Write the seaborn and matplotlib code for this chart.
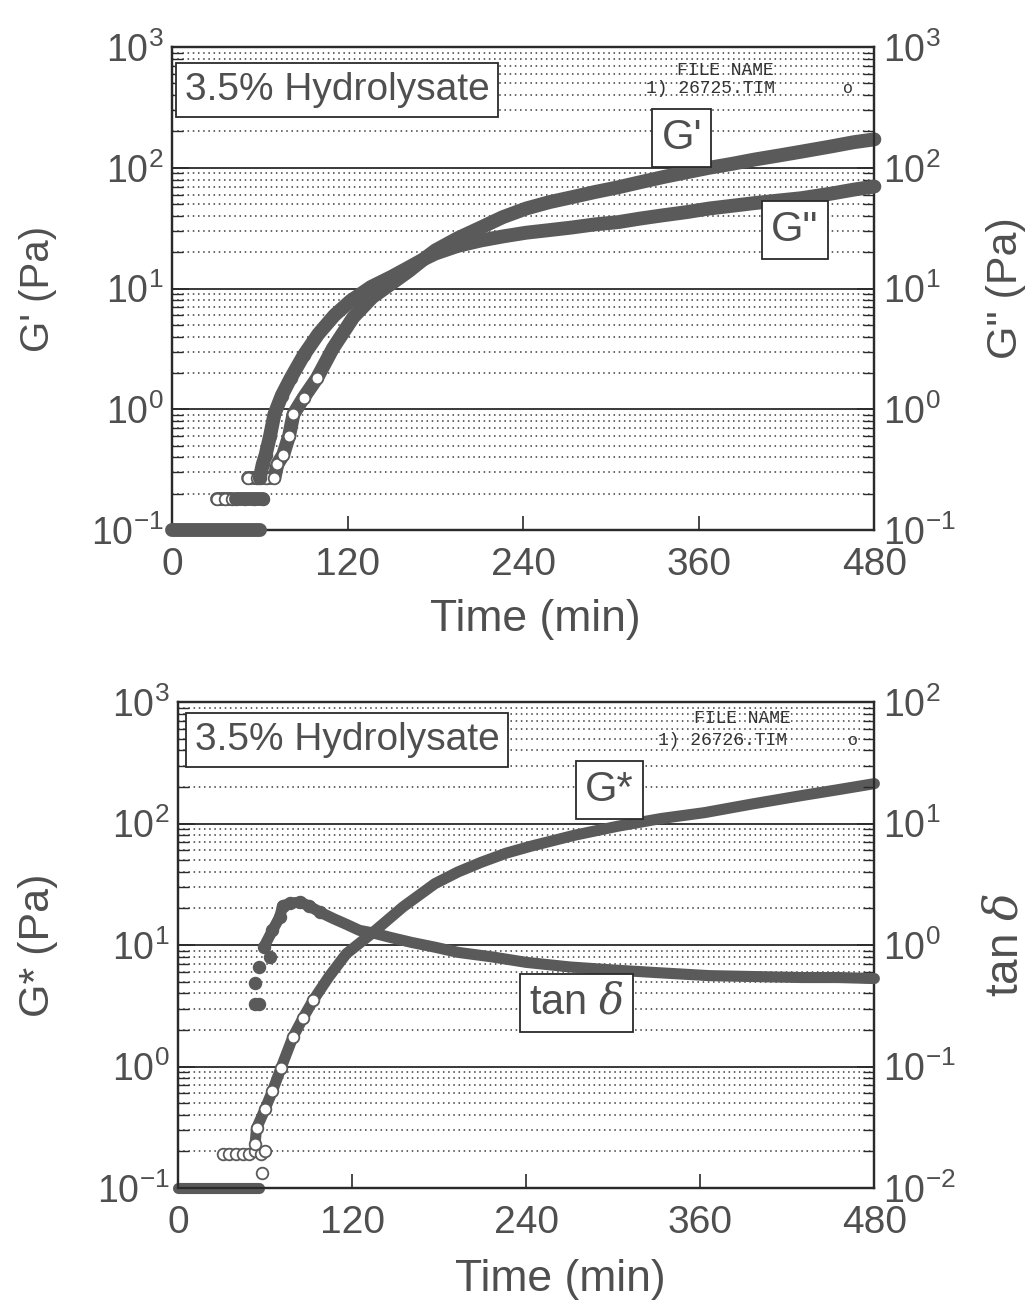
import pandas as pd
import matplotlib
matplotlib.use("Agg")
import matplotlib.pyplot as plt
import seaborn as sns
from matplotlib.ticker import LogLocator, NullFormatter, FixedLocator

# Set style
sns.set_theme(style="white")
plt.rcParams['font.family'] = ['Liberation Sans', 'DejaVu Sans']
plt.rcParams['axes.unicode_minus'] = False
plt.rcParams['mathtext.fontset'] = 'dejavuserif'

TEXT = "#4f4f4f"
INK = "#2a2a2a"
MARK = "#5a5a5a"

# ---- upper panel: G' and G'' vs time (min) ----
gp_time = [31, 36, 41,
           52, 58, 64, 70, 72, 76, 80, 83, 90, 99, 110, 124, 137, 150, 162, 172, 180,
           195, 211, 226, 242, 258, 273, 289, 305, 320, 336, 352, 367, 383, 398, 414,
           430, 450, 466, 480]
gp_val = [0.18, 0.18, 0.18,
          0.27, 0.27, 0.27, 0.27, 0.35, 0.42, 0.6, 0.91, 1.25, 1.8, 3.2, 5.8, 8.5, 11, 14, 17.5, 20.7,
          26, 32, 39, 46, 52, 57, 63, 69, 76, 84, 92, 100, 108, 117, 126,
          136, 150, 163, 172]
gp_seg = [0] * 3 + [1] * 36

gpp_time = [0, 10, 20, 30, 40, 50, 60,
            44, 50, 56, 62,
            60, 62, 64, 67, 70, 75, 81, 90, 100, 111, 122, 136, 150, 162, 172, 180, 195,
            211, 226, 242, 258, 273, 289, 305, 320, 336, 352, 367, 383, 398, 414, 430,
            450, 466, 480]
gpp_val = [0.1, 0.1, 0.1, 0.1, 0.1, 0.1, 0.1,
           0.18, 0.18, 0.18, 0.18,
           0.27, 0.35, 0.42, 0.6, 0.91, 1.3, 1.8, 2.8, 4.2, 6, 7.9, 10.3, 12.5, 15, 17.5, 19.5, 22.5,
           25, 27, 29, 30.5, 32, 34, 35.5, 38, 40.5, 43, 46, 48.5, 51, 53.5, 56,
           61, 66, 70]
gpp_seg = [0] * 7 + [1] * 4 + [2] * 35

# ---- lower panel: G* and tan delta vs time (min) ----
gs_time = [0, 10, 20, 30, 40, 50, 56,
           31, 35, 40, 45, 49, 53, 57, 60,
           58,
           53, 54, 60, 65, 71, 79, 86, 93, 104, 116, 134, 155, 177, 193, 209, 226, 243,
           273, 303, 333, 363, 396, 430, 455, 480]
gs_val = [0.1, 0.1, 0.1, 0.1, 0.1, 0.1, 0.1,
          0.19, 0.19, 0.19, 0.19, 0.19, 0.2, 0.19, 0.2,
          0.133,
          0.23, 0.31, 0.45, 0.63, 0.98, 1.74, 2.5, 3.5, 5.5, 8.5, 12.6, 20.6, 32, 40, 48, 57, 65,
          80, 95, 110, 123, 145, 170, 190, 213]
gs_seg = [0] * 7 + [1] * 8 + [2] + [3] * 25

td_time = [53, 56, 53, 56, 63,
           59, 65, 70, 72, 77, 84, 90, 98, 107, 116, 125, 134, 147, 161, 177, 193, 216,
           240, 270, 303, 333, 366, 398, 430, 455, 480]
td_val = [0.33, 0.33, 0.49, 0.66, 0.79,
          0.96, 1.32, 1.7, 2.1, 2.2, 2.26, 2.1, 1.86, 1.65, 1.48, 1.32, 1.26, 1.15, 1.05, 0.96, 0.87, 0.8,
          0.72, 0.66, 0.62, 0.59, 0.56, 0.55, 0.54, 0.54, 0.53]
td_seg = [0, 0, 1, 2, 3] + [4] * 26

time_ticks = [0, 120, 240, 360, 480]


def frame(t, v, s):
    return pd.DataFrame({"time": t, "value": v, "seg": s})


def draw_series(ax, df, lw, open_marker, floor):
    sns.lineplot(data=df, x="time", y="value", units="seg", estimator=None, sort=False,
                 color=MARK, lw=lw, solid_capstyle="round", legend=False, ax=ax,
                 clip_on=False, zorder=3)
    # early, sparse readings show up as individual circles
    early = df[(df["time"] < 100) & (df["value"] > floor)]
    sns.scatterplot(data=early, x="time", y="value", marker="o", s=70,
                    color="white" if open_marker else MARK, edgecolor=MARK,
                    linewidth=1.3, legend=False, ax=ax, clip_on=False, zorder=4)


def style_axes(ax, ax2, ylim2):
    ax.set_xlim(0, 480)
    ax.set_ylim(0.1, 1000)
    ax2.set_ylim(*ylim2)
    ax.xaxis.set_major_locator(FixedLocator(time_ticks))
    for a in (ax, ax2):
        a.yaxis.set_major_locator(LogLocator(base=10, numticks=10))
        a.yaxis.set_minor_locator(LogLocator(base=10, subs=range(2, 10), numticks=20))
        a.yaxis.set_minor_formatter(NullFormatter())
        a.set_xlabel("")
        a.set_ylabel("")
    ax.grid(which="major", axis="y", color=INK, lw=1.3, ls="-")
    ax.grid(which="minor", axis="y", color="#3a3a3a", lw=1.1, ls=(0, (1, 2.4)))
    ax.grid(which="both", axis="x", visible=False)
    ax.tick_params(axis="y", which="major", direction="in", length=12, width=1.2,
                   left=True, right=False, labelsize=27, labelcolor=TEXT, pad=6, color=INK)
    ax.tick_params(axis="y", which="minor", direction="in", length=8, width=1.0,
                   left=True, right=False, color=INK)
    ax.tick_params(axis="x", which="major", direction="in", length=10, width=1.2,
                   bottom=True, top=False, labelsize=28, labelcolor=TEXT, pad=12, color=INK)
    ax2.tick_params(axis="y", which="major", direction="in", length=12, width=1.2,
                    right=True, left=False, labelsize=27, labelcolor=TEXT, pad=6, color=INK)
    ax2.tick_params(axis="y", which="minor", direction="in", length=8, width=1.0,
                    right=True, left=False, color=INK)
    ax2.grid(False)
    for a in (ax, ax2):
        for sp in a.spines.values():
            sp.set_color(INK)
            sp.set_linewidth(1.6)


def boxed(ax, x, y, s, size=30, ha="center"):
    ax.text(x, y, s, transform=ax.transAxes, ha=ha, va="center", fontsize=size,
            color=TEXT, zorder=10,
            bbox=dict(boxstyle="square,pad=0.22", fc="white", ec=INK, lw=1.3))


def file_tag(ax, y1, y2, x1, x2, xo, name):
    ax.text(x1, y1, "FILE NAME", transform=ax.transAxes, ha="center", va="center",
            fontsize=13, family="Liberation Mono", color="#333333", zorder=10)
    ax.text(x2, y2, name, transform=ax.transAxes, ha="center", va="center",
            fontsize=13, family="Liberation Mono", color="#333333", zorder=10)
    ax.text(xo, y2, "o", transform=ax.transAxes, ha="center", va="center",
            fontsize=12, family="Liberation Mono", color="#333333", zorder=10)


def set_labels(ax, ax2, left, right, left_x, right_x, time_x, time_y, size_l, size_r):
    ax.set_ylabel(left, fontsize=size_l, color=TEXT)
    ax.yaxis.set_label_coords(left_x, 0.5)
    ax.yaxis.label.set_verticalalignment("center")
    ax2.set_ylabel(right, fontsize=size_r, color=TEXT)
    ax2.yaxis.set_label_coords(right_x, 0.5)
    ax2.yaxis.label.set_verticalalignment("center")
    ax.set_xlabel("Time (min)", fontsize=32, color=TEXT)
    ax.xaxis.set_label_coords(time_x, time_y)
    ax.xaxis.label.set_verticalalignment("center")


fig = plt.figure(figsize=(10.36, 13.11), dpi=100)

# upper panel
ax1 = fig.add_axes([0.166, 0.5957, 0.678, 0.3684])
ax1.set_yscale("log")
ax1b = ax1.twinx()
ax1b.set_yscale("log")
draw_series(ax1, frame(gp_time, gp_val, gp_seg), 10, True, 0.1)
draw_series(ax1b, frame(gpp_time, gpp_val, gpp_seg), 10, False, 0.1)
style_axes(ax1, ax1b, (0.1, 1000))
set_labels(ax1, ax1b, "G' (Pa)", 'G" (Pa)', -0.191, 1.187, 0.517, -0.186, 29, 31)
boxed(ax1, 0.018, 0.911, "3.5% Hydrolysate", size=28, ha="left")
boxed(ax1b, 0.726, 0.812, "G'")
boxed(ax1b, 0.887, 0.621, 'G"')
file_tag(ax1b, 0.952, 0.915, 0.788, 0.766, 0.962, "1) 26725.TIM")

# lower panel
ax2 = fig.add_axes([0.172, 0.0938, 0.672, 0.3707])
ax2.set_yscale("log")
ax2b = ax2.twinx()
ax2b.set_yscale("log")
draw_series(ax2, frame(gs_time, gs_val, gs_seg), 8, True, 0.1)
draw_series(ax2b, frame(td_time, td_val, td_seg), 8, False, 0.01)
style_axes(ax2, ax2b, (0.01, 100))
set_labels(ax2, ax2b, "G* (Pa)", r"tan $\delta$", -0.201, 1.188, 0.549, -0.189, 31, 33)
boxed(ax2, 0.024, 0.922, "3.5% Hydrolysate", size=28, ha="left")
boxed(ax2b, 0.619, 0.819, "G*")
boxed(ax2b, 0.572, 0.381, r"tan $\delta$")
file_tag(ax2b, 0.967, 0.92, 0.81, 0.782, 0.97, "1) 26726.TIM")

fig.savefig("out.png", dpi=100)
print("Saved out.png")
